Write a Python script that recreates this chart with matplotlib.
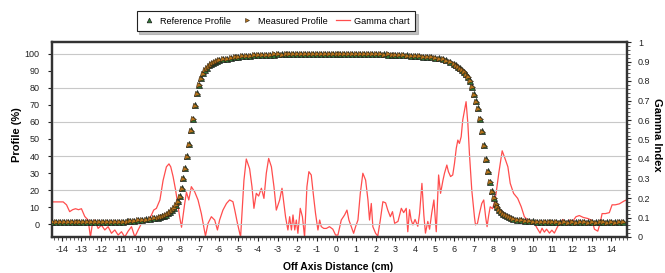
#!/usr/bin/env python3
"""Reference vs measured beam profile with gamma index overlay."""

import matplotlib.pyplot as plt
import numpy as np
from matplotlib.ticker import MultipleLocator

# profile sample grid (cm): tails every 0.2, penumbrae every 0.1
PROFILE_X = np.round(
    np.concatenate(
        [
            np.linspace(-14.5, -9.1, 28),
            np.linspace(-9.0, -6.1, 30),
            np.linspace(-6.0, 5.8, 60),
            np.linspace(6.0, 8.9, 30),
            np.linspace(9.0, 14.6, 29),
        ]
    ),
    2,
)

REFERENCE_PROFILE = [
    1.2, 1.2, 1.2, 1.2, 1.2, 1.2, 1.2, 1.2, 1.2, 1.2,
    1.2, 1.2, 1.3, 1.3, 1.3, 1.3, 1.4, 1.4, 1.5, 1.6,
    1.8, 2.0, 2.2, 2.4, 2.7, 3.0, 3.4, 3.8,
    4.1, 4.5, 5.0, 5.6, 6.3, 7.1, 8.2, 9.6, 11.4, 13.6,
    16.5, 21, 27, 33, 40, 47, 55, 62, 70, 77,
    82, 85.8, 88.5, 90.5, 92, 93.2, 94.1, 94.9, 95.5, 96.0,
    96.4, 96.9, 97.3, 97.7, 98.0, 98.3, 98.5, 98.7, 98.9, 99.1,
    99.2, 99.3, 99.4, 99.5, 99.6, 99.7, 99.7, 99.8, 99.8, 99.9,
    99.9, 99.9, 100, 100, 100, 100, 100, 100, 100, 100,
    100, 100, 100, 100, 100, 100, 99.9, 99.9, 99.9, 99.8,
    99.8, 99.7, 99.7, 99.6, 99.5, 99.4, 99.3, 99.2, 99.1, 98.9,
    98.8, 98.6, 98.4, 98.2, 98.0, 97.8, 97.4, 96.9, 96.2, 95.2,
    94.0, 93.3, 92.5, 91.6, 90.6, 89.5, 88.2, 86.5, 84.3, 80.8,
    76.5, 72.5, 68, 62, 54.5, 46.5, 38, 31, 25, 19.5,
    15.5, 12, 10, 8.3, 7.1, 6.1, 5.3, 4.6, 4.0, 3.5,
    3.1, 2.6, 2.3, 2.0, 1.8, 1.6, 1.4, 1.3, 1.2, 1.1,
    1.1, 1.0, 1.0, 1.0, 1.0, 1.0, 1.0, 1.0, 1.0, 1.0,
    1.0, 1.0, 1.0, 1.0, 1.0, 1.0, 1.0, 1.0, 1.0,
]

MEASURED_PROFILE = [
    1.0, 1.1, 1.0, 1.1, 1.0, 1.1, 1.0, 1.1, 1.0, 1.1,
    1.1, 1.1, 1.2, 1.2, 1.3, 1.2, 1.3, 1.4, 1.4, 1.5,
    1.7, 1.9, 2.1, 2.3, 2.6, 2.9, 3.3, 3.7,
    4.0, 4.4, 4.9, 5.5, 6.2, 7.0, 8.0, 9.3, 11.0, 13.2,
    16.0, 20.5, 26.5, 32.5, 39.5, 46.5, 54.5, 61.5, 69.5, 76.5,
    81.5, 85.5, 88.3, 90.3, 91.9, 93.1, 94.0, 94.8, 95.4, 95.9,
    96.3, 96.8, 97.2, 97.6, 97.9, 98.2, 98.5, 98.8, 99.0, 99.1,
    99.3, 99.4, 99.5, 99.5, 99.7, 99.8, 99.6, 99.9, 99.7, 100,
    99.8, 100.1, 99.9, 100.2, 99.9, 100.1, 100, 99.9, 100.2, 100,
    99.9, 100.1, 100, 100.2, 99.9, 100, 99.8, 100, 99.8, 99.9,
    99.7, 99.8, 99.6, 99.7, 99.4, 99.5, 99.2, 99.3, 99.0, 99.0,
    98.7, 98.7, 98.3, 98.3, 97.9, 97.6, 97.2, 96.8, 96.0, 95.0,
    93.8, 93.1, 92.3, 91.4, 90.4, 89.2, 87.9, 86.2, 84.0, 80.4,
    76.0, 72.0, 67.5, 61.5, 54, 46, 37.5, 30.5, 24.5, 19,
    15.2, 11.8, 9.8, 8.2, 7.0, 6.0, 5.2, 4.5, 3.9, 3.4,
    3.0, 2.6, 2.2, 1.9, 1.7, 1.5, 1.4, 1.2, 1.1, 1.1,
    1.0, 1.0, 0.9, 1.0, 0.9, 1.0, 0.9, 1.0, 1.0, 0.9,
    1.0, 0.9, 1.0, 1.0, 0.9, 1.0, 0.9, 1.0, 1.0,
]

GAMMA_X = [
    -14.5, -14.2, -13.93, -13.76, -13.6, -13.45, -13.3, -13.15, -13.0, -12.83,
    -12.66, -12.54, -12.44, -12.32, -12.15, -11.98, -11.81, -11.64, -11.47, -11.3,
    -11.13, -10.96, -10.79, -10.62, -10.45, -10.28, -10.11, -9.94, -9.77, -9.6,
    -9.43, -9.32, -9.18, -9.0, -8.84, -8.67, -8.54, -8.45, -8.33, -8.2,
    -8.08, -7.99, -7.9, -7.82, -7.74, -7.65, -7.53, -7.4, -7.23, -7.06,
    -6.89, -6.68, -6.55, -6.38, -6.21, -6.07, -5.96, -5.79, -5.61, -5.45,
    -5.28, -5.19, -5.05, -4.89, -4.72, -4.6, -4.43, -4.31, -4.21, -4.09,
    -3.97, -3.83, -3.7, -3.58, -3.46, -3.32, -3.19, -3.07, -2.9, -2.78,
    -2.6, -2.48, -2.39, -2.3, -2.22, -2.13, -2.05, -1.97, -1.85, -1.74,
    -1.63, -1.51, -1.41, -1.29, -1.17, -1.07, -0.95, -0.86, -0.78, -0.65,
    -0.52, -0.36, -0.19, -0.05, 0.07, 0.24, 0.41, 0.53, 0.63, 0.75,
    0.87, 0.97, 1.09, 1.21, 1.34, 1.48, 1.6, 1.68, 1.77, 1.85,
    1.99, 2.1, 2.23, 2.36, 2.5, 2.61, 2.74, 2.85, 2.96, 3.13,
    3.3, 3.42, 3.55, 3.63, 3.72, 3.8, 3.89, 4.0, 4.14, 4.23,
    4.35, 4.45, 4.53, 4.65, 4.74, 4.85, 4.96, 5.08, 5.2, 5.3,
    5.42, 5.5, 5.62, 5.7, 5.81, 5.92, 6.01, 6.1, 6.18, 6.26,
    6.35, 6.43, 6.52, 6.6, 6.69, 6.77, 6.89, 7.03, 7.08, 7.18,
    7.28, 7.4, 7.5, 7.6, 7.67, 7.75, 7.83, 7.95, 8.05, 8.13,
    8.27, 8.44, 8.61, 8.73, 8.85, 9.02, 9.23, 9.41, 9.57, 9.74,
    9.91, 10.08, 10.25, 10.37, 10.47, 10.59, 10.7, 10.85, 10.97, 11.1,
    11.22, 11.36, 11.53, 11.7, 11.87, 12.03, 12.2, 12.37, 12.58, 12.8,
    13.02, 13.14, 13.31, 13.43, 13.53, 13.7, 13.9, 14.04, 14.2, 14.41,
    14.66, 14.78,
]

GAMMA_INDEX = [
    0.18, 0.18, 0.18, 0.165, 0.13, 0.14, 0.145, 0.14, 0.145, 0.105,
    0.087, 0.0, 0.07, 0.087, 0.044, 0.061, 0.036, 0.053, 0.019, 0.036,
    0.01, 0.027, 0.0, 0.03, 0.053, 0.0, 0.036, 0.07, 0.079, 0.087,
    0.113, 0.138, 0.147, 0.19, 0.29, 0.36, 0.375, 0.36, 0.31, 0.24,
    0.16, 0.10, 0.05, 0.11, 0.17, 0.23, 0.19, 0.258, 0.232, 0.19,
    0.12, 0.005, 0.07, 0.104, 0.087, 0.036, 0.087, 0.138, 0.172, 0.19,
    0.181, 0.14, 0.07, 0.0, 0.29, 0.40, 0.35, 0.258, 0.147, 0.224,
    0.21, 0.25, 0.198, 0.327, 0.403, 0.36, 0.258, 0.138, 0.19, 0.25,
    0.104, 0.036, 0.104, 0.036, 0.113, 0.036, 0.087, 0.019, 0.147, 0.104,
    0.0, 0.258, 0.335, 0.318, 0.207, 0.12, 0.036, 0.087, 0.053, 0.044,
    0.044, 0.053, 0.04, 0.01, 0.01, 0.087, 0.113, 0.138, 0.087, 0.053,
    0.019, 0.053, 0.087, 0.224, 0.327, 0.292, 0.19, 0.087, 0.172, 0.053,
    0.019, 0.005, 0.087, 0.181, 0.175, 0.138, 0.104, 0.13, 0.07, 0.08,
    0.147, 0.125, 0.147, 0.027, 0.14, 0.088, 0.062, 0.09, 0.055, 0.12,
    0.275, 0.11, 0.02, 0.08, 0.04, 0.123, 0.19, 0.027, 0.318, 0.224,
    0.29, 0.327, 0.369, 0.335, 0.31, 0.318, 0.378, 0.455, 0.497, 0.48,
    0.514, 0.6, 0.651, 0.694, 0.583, 0.429, 0.241, 0.1, 0.062, 0.07,
    0.12, 0.172, 0.19, 0.1, 0.053, 0.11, 0.155, 0.145, 0.18, 0.224,
    0.33, 0.442, 0.395, 0.36, 0.275, 0.224, 0.198, 0.155, 0.104, 0.087,
    0.08, 0.07, 0.04, 0.02, 0.045, 0.025, 0.04, 0.02, 0.035, 0.02,
    0.045, 0.07, 0.09, 0.07, 0.087, 0.08, 0.104, 0.11, 0.1, 0.095,
    0.085, 0.04, 0.03, 0.07, 0.12, 0.12, 0.125, 0.165, 0.165, 0.17,
    0.185, 0.19,
]

X_TICKS = list(range(-14, 15))
PROFILE_TICKS = list(range(0, 101, 10))
GRID_LEVELS = list(range(0, 101, 20))


def main() -> None:
    plt.rcParams["font.family"] = ["Liberation Sans", "DejaVu Sans"]
    plt.rcParams["axes.unicode_minus"] = False
    fig = plt.figure(figsize=(6.65, 2.73), dpi=100)
    ax = fig.add_axes([52 / 665, 36 / 273, 575 / 665, 195 / 273])
    ax2 = ax.twinx()

    for level in GRID_LEVELS:
        ax.axhline(level, color="#c8c8c8", lw=0.8, zorder=0)

    (gamma_line,) = ax2.plot(GAMMA_X, GAMMA_INDEX, color="#ff4d4d", lw=0.9, label="Gamma chart")
    (ref_line,) = ax.plot(
        PROFILE_X, REFERENCE_PROFILE, ls="none", marker="^", ms=4.2,
        mfc="#2e7a34", mec="#1c1c1c", mew=0.5, label="Reference Profile", zorder=3,
    )
    (meas_line,) = ax.plot(
        PROFILE_X, MEASURED_PROFILE, ls="none", marker=">", ms=3.6,
        mfc="#b8741c", mec="#2e2414", mew=0.4, label="Measured Profile", zorder=4,
    )
    ax.set_zorder(ax2.get_zorder() + 1)
    ax.patch.set_visible(False)

    ax.set_xlim(-14.5, 14.8)
    ax.set_ylim(-7.6, 107)
    ax2.set_ylim(0, 1)

    ax.set_xticks(X_TICKS)
    ax.xaxis.set_minor_locator(MultipleLocator(0.2))
    ax.set_yticks(PROFILE_TICKS)
    ax2.yaxis.set_major_locator(MultipleLocator(0.1))
    ax2.yaxis.set_minor_locator(MultipleLocator(0.02))
    ax2.set_yticklabels([f"{t:g}" for t in np.round(ax2.get_yticks(), 1)])

    ax.tick_params(axis="x", which="major", direction="out", length=3, width=0.8, pad=3,
                   labelsize=6.5, colors="#222222")
    ax.tick_params(axis="x", which="minor", direction="out", length=2, width=0.6, colors="#444444")
    ax.tick_params(axis="y", direction="out", length=3, width=0.8, pad=6, labelsize=6.5, colors="#222222")
    ax2.tick_params(axis="y", which="major", direction="out", length=3, width=0.8, pad=5,
                    labelsize=6.5, colors="#222222")
    ax2.tick_params(axis="y", which="minor", direction="out", length=2, width=0.6, colors="#444444")

    for a in (ax, ax2):
        for spine in a.spines.values():
            spine.set_linewidth(1.6)
            spine.set_color("#333333")

    fig.text(17 / 665, 1 - 135 / 273, "Profile (%)", rotation=90, ha="center", va="center",
             fontsize=8, fontweight="bold")
    fig.text(657 / 665, 1 - 135 / 273, "Gamma Index", rotation=270, ha="center", va="center",
             fontsize=8, fontweight="bold")
    fig.text(338 / 665, 1 - 267 / 273, "Off Axis Distance (cm)", ha="center", va="center",
             fontsize=7.5, fontweight="bold")

    leg = fig.legend(
        handles=[ref_line, meas_line, gamma_line],
        loc="center", bbox_to_anchor=(276 / 665, 1 - 21 / 273), ncol=3,
        fontsize=6.6, frameon=True, fancybox=False, shadow={"color": "#999999", "alpha": 0.6},
        handlelength=1.5, handletextpad=0.5, columnspacing=0.9, borderpad=0.6,
        markerscale=0.8,
    )
    leg.get_frame().set_edgecolor("#222222")
    leg.get_frame().set_linewidth(0.8)

    fig.savefig("out.png", dpi=100)
    plt.close(fig)


if __name__ == "__main__":
    main()
